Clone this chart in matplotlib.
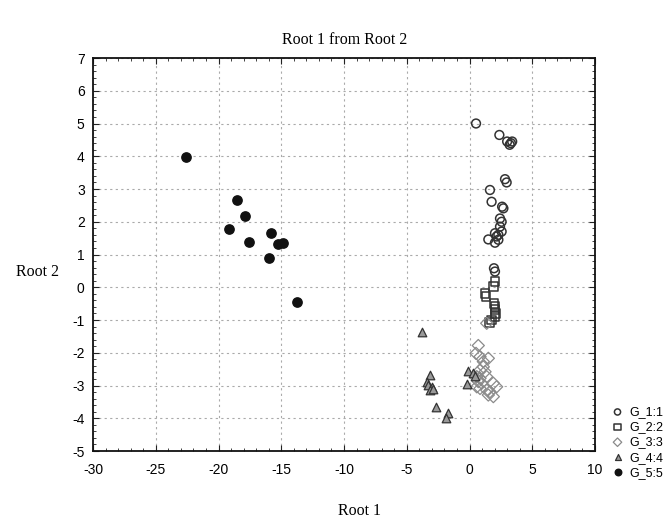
import matplotlib
matplotlib.use("Agg")
import matplotlib.pyplot as plt
from matplotlib.ticker import MultipleLocator

plt.rcParams['axes.unicode_minus'] = False

g1_x = [0.52, 2.38, 3.0, 3.3, 3.2, 3.4, 2.83, 2.96, 1.63, 1.76, 2.6, 2.7, 2.43, 2.56, 2.43,
        2.03, 2.3, 2.16, 2.56, 1.5, 2.03, 2.3, 1.95, 2.03]
g1_y = [5.0, 4.65, 4.45, 4.4, 4.35, 4.45, 3.3, 3.2, 2.97, 2.61, 2.46, 2.41, 2.1, 2.0, 1.85,
        1.65, 1.6, 1.55, 1.7, 1.46, 1.36, 1.45, 0.58, 0.48]

g2_x = [2.03, 1.9, 1.24, 1.31, 1.95, 2.03, 2.03, 2.1, 2.03, 1.77, 1.58]
g2_y = [0.17, 0.02, -0.19, -0.29, -0.49, -0.59, -0.69, -0.8, -0.9, -1.0, -1.08]

g3_x = [1.37, 0.7, 0.52, 0.84, 1.5, 1.1, 1.1, 0.84, 1.24, 1.37, 0.58, 0.84, 0.7, 0.97,
        0.58, 0.84, 1.37, 1.63, 1.9, 2.16, 1.5, 1.9]
g3_y = [-1.1, -1.78, -2.02, -2.12, -2.17, -2.27, -2.43, -2.53, -2.58, -2.73, -2.73, -2.78,
        -2.88, -2.93, -3.04, -3.09, -3.14, -3.19, -2.93, -3.04, -3.29, -3.34]

g4_x = [-3.76, -3.15, -3.42, -3.29, -3.0, -3.15, -2.88, -2.7, -1.69, -1.87, -0.1, 0.3, -0.2, 0.44]
g4_y = [-1.38, -2.68, -2.88, -2.98, -3.06, -3.14, -3.12, -3.65, -3.85, -4.0, -2.55, -2.63, -2.96, -2.71]

g5_x = [-22.59, -18.5, -17.9, -19.19, -15.84, -17.6, -15.23, -14.83, -16.0, -13.77]
g5_y = [3.97, 2.66, 2.18, 1.78, 1.67, 1.39, 1.32, 1.34, 0.88, -0.46]

labels = ["G_1:1", "G_2:2", "G_3:3", "G_4:4", "G_5:5"]

fig = plt.figure(figsize=(6.71, 5.19), dpi=100)
ax = fig.add_axes([93/671, 1-451/519, (595-93)/671, (451-58)/519])

ax.scatter(g1_x, g1_y, s=40, facecolors='none', edgecolors='#333333', linewidths=1.1, label=labels[0], zorder=3)
ax.scatter(g2_x, g2_y, s=40, marker='s', facecolors='none', edgecolors='#333333', linewidths=1.1, label=labels[1], zorder=3)
ax.scatter(g3_x, g3_y, s=38, marker='D', facecolors='none', edgecolors='#8a8a8a', linewidths=0.9, label=labels[2], zorder=3)
ax.scatter(g4_x, g4_y, s=38, marker='^', facecolors='#999999', edgecolors='#333333', linewidths=0.9, label=labels[3], zorder=3)
ax.scatter(g5_x, g5_y, s=45, marker='o', facecolors='#111111', edgecolors='#111111', label=labels[4], zorder=3)

ax.set_xlim(-30, 10)
ax.set_ylim(-5, 7)
ax.xaxis.set_major_locator(MultipleLocator(5))
ax.xaxis.set_minor_locator(MultipleLocator(1))
ax.yaxis.set_major_locator(MultipleLocator(1))
ax.yaxis.set_minor_locator(MultipleLocator(0.2))
ax.tick_params(which='both', direction='in', top=True, right=True, color='#222222')
ax.tick_params(which='major', length=4, labelsize=10)
ax.tick_params(axis='x', which='major', pad=9)
ax.tick_params(axis='y', which='major', pad=6)
ax.tick_params(which='minor', length=2)
for lab in ax.get_xticklabels() + ax.get_yticklabels():
    lab.set_fontfamily('Liberation Sans')
ax.grid(True, which='major', linestyle=(0, (2, 3)), color='#aaaaaa', linewidth=0.8)
for sp in ax.spines.values():
    sp.set_linewidth(1.3)
    sp.set_color('#111111')

fig.text(345/671, 1-40/519, "Root 1 from Root 2", ha='center', va='center',
         fontfamily='Liberation Serif', fontsize=11.5)
fig.text(38/671, 1-272/519, "Root 2", ha='center', va='center',
         fontfamily='Liberation Serif', fontsize=11.5)
fig.text(360/671, 1-511/519, "Root 1", ha='center', va='center',
         fontfamily='Liberation Serif', fontsize=11.5)

leg = fig.legend(loc='upper left', bbox_to_anchor=(605/671, 1-400/519), frameon=False,
                 prop={'family': 'Liberation Sans', 'size': 9}, handletextpad=0.45,
                 labelspacing=0.25, borderpad=0, markerscale=0.7, handlelength=1.0)

fig.savefig("out.png", dpi=100)
